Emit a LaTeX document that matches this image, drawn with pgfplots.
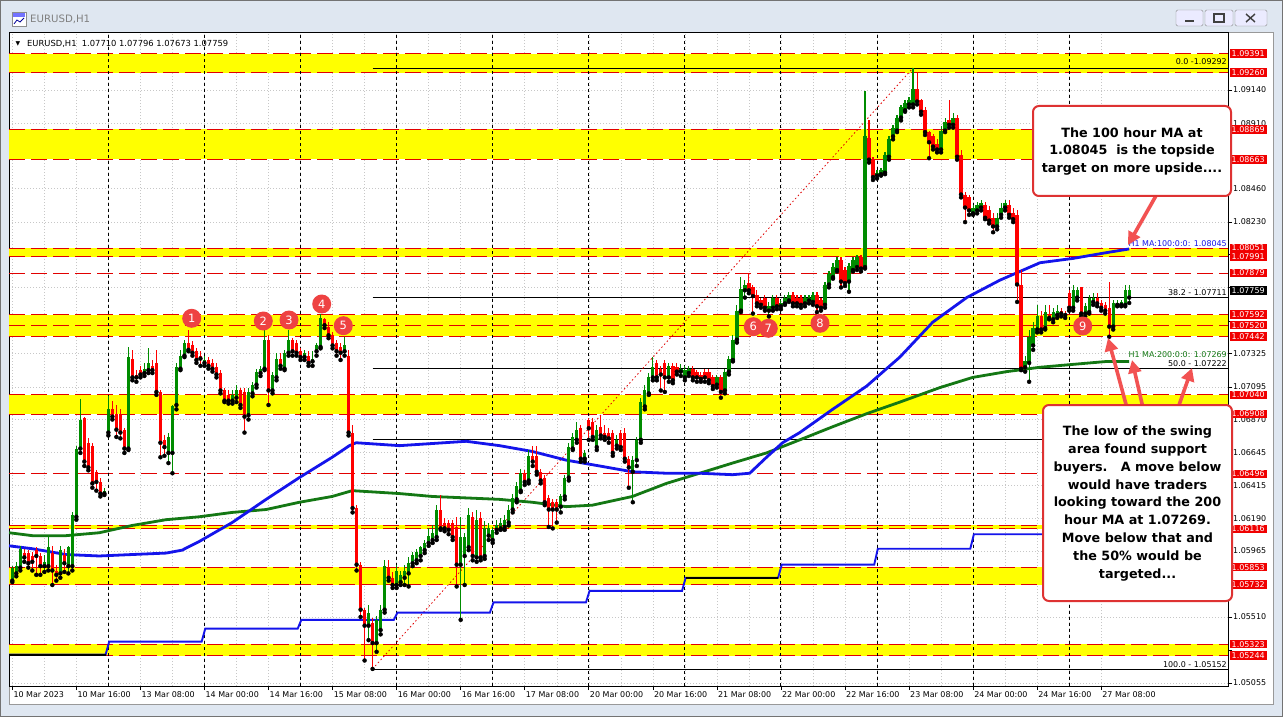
\documentclass[border=0pt]{standalone}
\usepackage{fontspec}
\setmainfont{DejaVu Sans}
\usepackage{pgfplots}
\pgfplotsset{compat=1.18}
\usepackage{pgfplotstable}
\usetikzlibrary{arrows.meta}

\definecolor{upg}{RGB}{0,140,0}
\definecolor{dnr}{RGB}{255,0,0}
\definecolor{mablue}{RGB}{20,20,235}
\definecolor{magreen}{RGB}{20,120,20}
\definecolor{bandy}{RGB}{255,255,0}
\definecolor{bandr}{RGB}{225,0,0}
\definecolor{winbg}{RGB}{223,231,241}
\definecolor{noteRed}{RGB}{222,50,50}
\definecolor{arrowRed}{RGB}{242,82,82}
\definecolor{dotRed}{RGB}{238,66,66}
\definecolor{tagRed}{RGB}{240,0,0}
\newcommand{\sm}{\fontsize{8}{9.5}\selectfont}

% hourly candles, index 0 = 10 Mar 00:00 (bull candles)
\pgfplotstableread{
i o h l c
0 1.0576 1.0586 1.0575 1.0585
1 1.0581 1.0589 1.0579 1.0586
2 1.0585 1.0600 1.0583 1.0598
8 1.0586 1.0594 1.0582 1.0589
9 1.0586 1.0607 1.0583 1.0599
12 1.0581 1.0600 1.0578 1.0597
14 1.0586 1.0600 1.0581 1.0599
15 1.0586 1.0623 1.0583 1.0621
16 1.0620 1.0669 1.0618 1.0667
17 1.0667 1.0701 1.0664 1.0687
23 1.0636 1.0640 1.0635 1.0638
24 1.0678 1.0703 1.0676 1.0694
29 1.0667 1.0737 1.0666 1.0730
33 1.0719 1.0726 1.0717 1.0722
34 1.0721 1.0736 1.0719 1.0726
39 1.0664 1.0678 1.0657 1.0675
40 1.0664 1.0697 1.0650 1.0696
41 1.0697 1.0726 1.0694 1.0723
42 1.0722 1.0735 1.0721 1.0731
43 1.0731 1.0742 1.0730 1.0740
48 1.0726 1.0731 1.0724 1.0728
55 1.0700 1.0707 1.0698 1.0704
56 1.0702 1.0711 1.0699 1.0707
59 1.0690 1.0709 1.0687 1.0706
60 1.0705 1.0713 1.0703 1.0711
61 1.0711 1.0722 1.0709 1.0720
62 1.0719 1.0724 1.0717 1.0722
63 1.0722 1.0749 1.0721 1.0742
65 1.0707 1.0720 1.0705 1.0718
66 1.0716 1.0733 1.0714 1.0729
68 1.0722 1.0735 1.0721 1.0733
69 1.0733 1.0749 1.0731 1.0742
73 1.0730 1.0735 1.0728 1.0733
75 1.0727 1.0734 1.0724 1.0729
76 1.0734 1.0740 1.0731 1.0738
77 1.0737 1.0760 1.0736 1.0757
83 1.0734 1.0744 1.0731 1.0738
89 1.0545 1.0559 1.0535 1.0554
91 1.0533 1.0552 1.0527 1.0549
92 1.0542 1.0559 1.0539 1.0556
93 1.0556 1.0590 1.0554 1.0586
96 1.0573 1.0587 1.0571 1.0583
97 1.0575 1.0583 1.0573 1.0580
98 1.0578 1.0587 1.0573 1.0583
99 1.0581 1.0592 1.0572 1.0588
100 1.0588 1.0596 1.0586 1.0594
101 1.0590 1.0598 1.0588 1.0596
102 1.0593 1.0600 1.0590 1.0599
103 1.0597 1.0604 1.0595 1.0602
104 1.0602 1.0612 1.0600 1.0607
105 1.0604 1.0614 1.0602 1.0609
106 1.0606 1.0628 1.0604 1.0625
112 1.0587 1.0620 1.0549 1.0606
113 1.0593 1.0609 1.0573 1.0606
114 1.0599 1.0626 1.0597 1.0621
116 1.0592 1.0625 1.0589 1.0618
118 1.0593 1.0617 1.0591 1.0612
119 1.0607 1.0616 1.0604 1.0612
120 1.0604 1.0613 1.0602 1.0611
121 1.0611 1.0618 1.0609 1.0614
122 1.0612 1.0619 1.0611 1.0616
123 1.0613 1.0621 1.0611 1.0618
124 1.0616 1.0628 1.0614 1.0625
125 1.0625 1.0636 1.0623 1.0633
126 1.0632 1.0644 1.0630 1.0641
127 1.0638 1.0653 1.0637 1.0650
129 1.0645 1.0666 1.0643 1.0662
137 1.0627 1.0636 1.0623 1.0634
138 1.0634 1.0649 1.0632 1.0647
139 1.0647 1.0671 1.0645 1.0668
140 1.0667 1.0678 1.0666 1.0675
141 1.0673 1.0685 1.0671 1.0680
143 1.0660 1.0666 1.0658 1.0664
146 1.0668 1.0683 1.0666 1.0680
151 1.0669 1.0676 1.0667 1.0673
155 1.0651 1.0662 1.0630 1.0659
156 1.0659 1.0675 1.0655 1.0673
157 1.0673 1.0702 1.0671 1.0699
158 1.0696 1.0711 1.0694 1.0707
159 1.0705 1.0719 1.0704 1.0716
160 1.0716 1.0730 1.0714 1.0723
164 1.0716 1.0726 1.0713 1.0724
167 1.0720 1.0725 1.0717 1.0722
168 1.0716 1.0724 1.0714 1.0721
169 1.0719 1.0724 1.0717 1.0722
176 1.0711 1.0718 1.0709 1.0716
178 1.0707 1.0722 1.0705 1.0720
179 1.0720 1.0731 1.0718 1.0729
180 1.0728 1.0745 1.0727 1.0742
181 1.0742 1.0766 1.0740 1.0762
182 1.0762 1.0785 1.0761 1.0777
183 1.0776 1.0783 1.0771 1.0780
189 1.0762 1.0768 1.0758 1.0765
190 1.0764 1.0773 1.0762 1.0771
192 1.0765 1.0769 1.0763 1.0767
193 1.0767 1.0773 1.0766 1.0771
194 1.0769 1.0775 1.0768 1.0773
198 1.0767 1.0773 1.0765 1.0771
199 1.0769 1.0773 1.0767 1.0771
200 1.0768 1.0775 1.0766 1.0773
203 1.0766 1.0782 1.0764 1.0780
204 1.0780 1.0789 1.0778 1.0787
205 1.0785 1.0795 1.0784 1.0792
206 1.0790 1.0799 1.0789 1.0797
209 1.0782 1.0795 1.0775 1.0793
210 1.0790 1.0799 1.0789 1.0797
211 1.0792 1.0800 1.0790 1.0799
213 1.0792 1.0913 1.0791 1.0882
216 1.0855 1.0859 1.0853 1.0857
217 1.0856 1.0860 1.0855 1.0859
218 1.0857 1.0871 1.0856 1.0869
219 1.0868 1.0882 1.0866 1.0880
220 1.0882 1.0890 1.0880 1.0888
221 1.0886 1.0897 1.0885 1.0895
222 1.0895 1.0904 1.0893 1.0902
223 1.0900 1.0907 1.0899 1.0905
224 1.0904 1.0909 1.0902 1.0907
225 1.0904 1.09292 1.0902 1.0915
232 1.0873 1.0889 1.0871 1.0886
233 1.0886 1.0895 1.0885 1.0892
235 1.0890 1.0898 1.0888 1.0895
240 1.0829 1.0835 1.0828 1.0833
241 1.0831 1.0837 1.0829 1.0835
242 1.0833 1.0838 1.0831 1.0836
246 1.0820 1.0829 1.0818 1.0826
247 1.0828 1.0836 1.0826 1.0833
248 1.0833 1.0838 1.0831 1.0836
253 1.0723 1.0731 1.0720 1.0727
254 1.0726 1.0749 1.0713 1.0744
255 1.0738 1.0754 1.0735 1.0750
256 1.0749 1.0766 1.0747 1.0758
258 1.0750 1.0766 1.0749 1.0761
260 1.0756 1.0764 1.0754 1.0761
261 1.0759 1.0766 1.0757 1.0762
265 1.0764 1.0780 1.0762 1.0776
266 1.0771 1.0778 1.0769 1.0776
268 1.0760 1.0767 1.0758 1.0765
269 1.0761 1.0773 1.0760 1.0771
270 1.0768 1.0774 1.0766 1.0771
275 1.0751 1.0769 1.0749 1.0767
276 1.0766 1.0769 1.0765 1.0767
277 1.0766 1.0769 1.0765 1.0768
278 1.0766 1.0780 1.0765 1.0776
279 1.07710 1.07796 1.07673 1.07759
}\upc

% bear candles
\pgfplotstableread{
i o h l c
3 1.0595 1.0598 1.0589 1.0592
4 1.0595 1.0597 1.0585 1.0588
5 1.0593 1.0596 1.0583 1.0589
6 1.0597 1.0599 1.0580 1.0593
7 1.0593 1.0595 1.0580 1.0586
10 1.0595 1.0600 1.0573 1.0583
11 1.0583 1.0587 1.0576 1.0580
13 1.0594 1.0598 1.0582 1.0588
18 1.0688 1.0689 1.0655 1.0658
19 1.0671 1.0674 1.0652 1.0654
20 1.0669 1.0671 1.0640 1.0643
21 1.0651 1.0652 1.0638 1.0644
22 1.0644 1.0647 1.0634 1.0636
25 1.0694 1.0700 1.0687 1.0689
26 1.0691 1.0697 1.0675 1.0680
27 1.0690 1.0694 1.0674 1.0678
28 1.0680 1.0681 1.0664 1.0667
30 1.0729 1.0735 1.0714 1.0716
31 1.0718 1.0721 1.0713 1.0716
32 1.0721 1.0724 1.0716 1.0718
35 1.0724 1.0728 1.0719 1.0721
36 1.0726 1.0735 1.0704 1.0706
37 1.0706 1.0707 1.0661 1.0671
38 1.0673 1.0676 1.0662 1.0668
44 1.0740 1.0749 1.0734 1.0735
45 1.0738 1.0741 1.0731 1.0733
46 1.0734 1.0736 1.0726 1.0728
47 1.0731 1.0734 1.0724 1.0729
49 1.0728 1.0730 1.0722 1.0724
50 1.0726 1.0729 1.0720 1.0722
51 1.0723 1.0726 1.0716 1.0718
52 1.0719 1.0721 1.0705 1.0707
53 1.0707 1.0709 1.0699 1.0700
54 1.0704 1.0707 1.0698 1.0700
57 1.0707 1.0709 1.0695 1.0697
58 1.0706 1.0709 1.0678 1.0689
64 1.0742 1.0745 1.0697 1.0707
67 1.0729 1.0733 1.0722 1.0724
70 1.0742 1.0743 1.0731 1.0734
71 1.0740 1.0742 1.0731 1.0733
72 1.0734 1.0736 1.0728 1.0730
74 1.0731 1.0734 1.0724 1.0726
78 1.0756 1.0757 1.0750 1.0752
79 1.0751 1.0754 1.0743 1.0745
80 1.0745 1.0747 1.0736 1.0738
81 1.0740 1.0742 1.0731 1.0734
82 1.0737 1.0740 1.0728 1.0733
84 1.0731 1.0735 1.0676 1.0678
85 1.0678 1.0683 1.0623 1.0626
86 1.0626 1.0628 1.0583 1.0587
87 1.0587 1.0589 1.0551 1.0556
88 1.0556 1.0557 1.0521 1.0545
90 1.0547 1.0550 1.05152 1.0533
94 1.0585 1.0590 1.0576 1.0578
95 1.0578 1.0582 1.0571 1.0573
107 1.0625 1.0635 1.0611 1.0612
108 1.0616 1.0619 1.0610 1.0612
109 1.0616 1.0618 1.0608 1.0611
110 1.0616 1.0618 1.0604 1.0606
111 1.0613 1.0620 1.0572 1.0587
115 1.0620 1.0623 1.0590 1.0593
117 1.0619 1.0623 1.0590 1.0592
128 1.0650 1.0652 1.0642 1.0644
130 1.0662 1.0669 1.0655 1.0658
131 1.0662 1.0669 1.0649 1.0651
132 1.0651 1.0653 1.0643 1.0645
133 1.0647 1.0649 1.0628 1.0630
134 1.0633 1.0635 1.0613 1.0625
135 1.0630 1.0632 1.0612 1.0625
136 1.0630 1.0632 1.0616 1.0625
142 1.0681 1.0683 1.0658 1.0660
144 1.0687 1.0688 1.0673 1.0681
145 1.0685 1.0688 1.0673 1.0675
147 1.0682 1.0690 1.0674 1.0676
148 1.0678 1.0683 1.0673 1.0675
149 1.0678 1.0681 1.0671 1.0674
150 1.0678 1.0680 1.0662 1.0664
152 1.0678 1.0680 1.0666 1.0668
153 1.0678 1.0681 1.0658 1.0660
154 1.0660 1.0662 1.0640 1.0654
161 1.0726 1.0728 1.0714 1.0716
162 1.0722 1.0724 1.0707 1.0718
163 1.0726 1.0728 1.0706 1.0716
165 1.0724 1.0726 1.0712 1.0714
166 1.0723 1.0726 1.0718 1.0720
170 1.0722 1.0724 1.0714 1.0716
171 1.0720 1.0721 1.0713 1.0716
172 1.0718 1.0720 1.0713 1.0715
173 1.0720 1.0722 1.0713 1.0716
174 1.0720 1.0722 1.0712 1.0714
175 1.0716 1.0718 1.0708 1.0710
177 1.0716 1.0718 1.0702 1.0706
184 1.0781 1.0788 1.0774 1.0776
185 1.0778 1.0780 1.0760 1.0772
186 1.0773 1.0776 1.0765 1.0767
187 1.0769 1.0771 1.0764 1.0766
188 1.0771 1.0773 1.0762 1.0764
191 1.0771 1.0773 1.0763 1.0765
195 1.0773 1.0775 1.0765 1.0767
196 1.0771 1.0773 1.0765 1.0767
197 1.0771 1.0773 1.0764 1.0766
201 1.0773 1.0775 1.0761 1.0765
202 1.0769 1.0771 1.0762 1.0764
207 1.0797 1.0799 1.0778 1.0782
208 1.0790 1.0792 1.0779 1.0781
212 1.0799 1.0800 1.0789 1.0791
214 1.0881 1.0893 1.0864 1.0866
215 1.0866 1.0868 1.0852 1.0854
226 1.0915 1.0926 1.0904 1.0906
227 1.0907 1.0908 1.0897 1.0899
228 1.0900 1.0902 1.0883 1.0885
229 1.0885 1.0886 1.0867 1.0878
230 1.0882 1.0884 1.0873 1.0875
231 1.0877 1.0880 1.0871 1.0873
234 1.0893 1.0907 1.0888 1.0890
236 1.0895 1.0897 1.0866 1.0868
237 1.0869 1.0873 1.0840 1.0842
238 1.0842 1.0844 1.0823 1.0833
239 1.0840 1.0842 1.0828 1.0831
243 1.0835 1.0837 1.0825 1.0826
244 1.0831 1.0834 1.0822 1.0824
245 1.0826 1.0829 1.0816 1.0820
249 1.0835 1.0838 1.0826 1.0828
250 1.0829 1.0833 1.0823 1.0825
251 1.0828 1.0831 1.0768 1.0780
252 1.0780 1.0790 1.0721 1.0722
257 1.0758 1.0762 1.0747 1.0749
259 1.0760 1.0766 1.0756 1.0757
262 1.0762 1.0764 1.0758 1.0760
263 1.0760 1.0762 1.0757 1.0759
264 1.0774 1.0776 1.0762 1.0764
267 1.0778 1.0778 1.0758 1.0760
271 1.0771 1.0774 1.0765 1.0767
272 1.0767 1.0769 1.0762 1.0764
273 1.0766 1.0768 1.0760 1.0762
274 1.0764 1.0782 1.0744 1.0751
}\dnc

\tikzset{
  bandln/.style={bandr, line width=1bp, dash pattern=on 16bp off 6bp},
  sepln/.style={black, line width=0.9bp, dash pattern=on 3bp off 3bp},
  tag/.style={fill=#1, text=white, font=\sm, anchor=west, inner xsep=2bp, inner ysep=1.3bp},
  numdot/.style={circle, fill=dotRed, text=white, minimum size=19bp, inner sep=0pt, font=\fontsize{11.5}{11.5}\selectfont},
  note/.style={align=center, font=\bfseries\fontsize{12.8}{18}\selectfont},
  arr/.style={arrowRed, line width=3.6bp, -{Triangle[length=13bp,width=13bp]}}
}
\newcommand{\band}[2]{\fill[bandy] (axis cs:-0.825,#1) rectangle (axis cs:303.675,#2);}
\newcommand{\lvl}[1]{\draw[bandln] (axis cs:-0.825,#1) -- (axis cs:303.675,#1);}

\begin{document}
\begin{tikzpicture}
% window chrome
\begin{scope}[x=1bp,y=-1bp]
  \fill[winbg] (0,0) rectangle (1283,717);
  \draw[black!55, line width=1bp] (0.5,0.5) rectangle (1282.5,716.5);
  \fill[white] (9,32) rectangle (1273,704);
  \draw[black!40, line width=0.8bp] (9,32) rectangle (1273,704);
  \draw[black!45, fill=white] (12,12) rectangle (26,26);
  \fill[blue!55] (13,13) rectangle (25,17);
  \draw[blue!60!black, line width=0.8bp] (14,24) -- (17,20) -- (20,22) -- (24,18);
  \node[anchor=west, text=black!50, font=\fontsize{10.2}{12}\selectfont, inner sep=0] at (30,19.5) {EURUSD,H1};
  \foreach \xa/\xb in {1176/1203,1205/1233,1235/1267}{
    \draw[black!45, fill=white!92!blue, rounded corners=1.5bp] (\xa,10) rectangle (\xb,26);
  }
  \draw[black!75, line width=1.6bp] (1185,21) -- (1194,21);
  \draw[black!75, line width=1.2bp] (1214,14) rectangle (1224,22);
  \draw[black!75, line width=1.4bp] (1246,14) -- (1255,22) (1246,22) -- (1255,14);
\end{scope}

\begin{axis}[
  at={(9bp,-686bp)}, anchor=south west,
  scale only axis, width=1219bp, height=654bp,
  xmin=-0.825, xmax=303.675, ymin=1.050343, ymax=1.095395,
  clip=false,
  axis line style={black, line width=0.9bp},
  xtick={0,16,32,48,64,80,96,112,128,144,160,176,192,208,224,240,256,272},
  xticklabels={10 Mar 2023,10 Mar 16:00,13 Mar 08:00,14 Mar 00:00,14 Mar 16:00,15 Mar 08:00,16 Mar 00:00,16 Mar 16:00,17 Mar 08:00,20 Mar 00:00,20 Mar 16:00,21 Mar 08:00,22 Mar 00:00,22 Mar 16:00,23 Mar 08:00,24 Mar 00:00,24 Mar 16:00,27 Mar 08:00},
  minor x tick num=1,
  ytick={1.09140,1.08910,1.08685,1.08460,1.08230,1.08005,1.07780,1.07550,1.07325,1.07095,1.06870,1.06645,1.06415,1.06190,1.05965,1.05735,1.05510,1.05280,1.05055},
  yticklabels={1.09140,1.08910,,1.08460,1.08230,,,,1.07325,1.07095,1.06870,1.06645,1.06415,1.06190,1.05965,,1.05510,,1.05055},
  scaled y ticks=false,
  xtick pos=bottom, ytick pos=right, yticklabel pos=right,
  tick align=outside, major tick length=4bp, minor tick length=0bp,
  xmajorgrids, xminorgrids, ymajorgrids,
  major grid style={black!22, line width=0.5bp, dash pattern=on 1bp off 2bp},
  minor grid style={black!22, line width=0.5bp, dash pattern=on 1bp off 2bp},
  tick style={black, line width=0.6bp},
  xticklabel style={font=\sm, anchor=north west, inner sep=1bp},
  yticklabel style={font=\sm, anchor=west, inner sep=1bp},
]
% support / resistance zones
\band{1.09260}{1.09391}
\band{1.08663}{1.08869}
\band{1.07991}{1.08051}
\band{1.07442}{1.07592}
\band{1.06908}{1.07040}
\band{1.06116}{1.06140}
\band{1.05732}{1.05853}
\band{1.05244}{1.05323}
\lvl{1.09391}\lvl{1.09260}\lvl{1.08869}\lvl{1.08663}
\lvl{1.08051}\lvl{1.07991}\lvl{1.07879}
\lvl{1.07592}\lvl{1.07520}\lvl{1.07442}
\lvl{1.07040}\lvl{1.06908}\lvl{1.06496}
\lvl{1.06140}\lvl{1.06116}\lvl{1.05853}\lvl{1.05732}
\lvl{1.05323}\lvl{1.05244}
% day separators
\pgfplotsinvokeforeach{24,48,72,96,120,144,168,192,216,240,264}{
  \draw[sepln] (axis cs:#1,1.050343) -- (axis cs:#1,1.095395);
}
% fibonacci retracement
\addplot[black, line width=0.8bp] coordinates {(90,1.09292) (303.675,1.09292)};
\addplot[black, line width=0.8bp] coordinates {(90,1.07711) (303.675,1.07711)};
\addplot[black, line width=0.8bp] coordinates {(90,1.07222) (303.675,1.07222)};
\addplot[black, line width=0.8bp] coordinates {(90,1.06733) (303.675,1.06733)};
\addplot[black, line width=0.8bp] coordinates {(90,1.05152) (303.675,1.05152)};
\addplot[bandr, line width=0.8bp, dash pattern=on 1.5bp off 2.5bp] coordinates {(90,1.05152) (225,1.09292)};
% daily step line
\addplot[mablue, line width=1.9bp] coordinates {
(-0.8,1.0525) (23.3,1.0525) (24.2,1.0534) (47.3,1.0534) (48.2,1.0543) (71.3,1.0543)
(72.2,1.0549) (95.3,1.0549) (96.2,1.0554) (119.3,1.0554) (120.2,1.0561) (143.3,1.0561)
(144.2,1.0569) (167.3,1.0569) (168.2,1.0578) (191.3,1.0578) (192.2,1.0587) (215.3,1.0587)
(216.2,1.0598) (239.3,1.0598) (240.2,1.0608) (263.3,1.0608) (264.2,1.0618) (279,1.0618)};
\addplot[black, line width=1.9bp] coordinates {(-0.8,1.0525) (23.3,1.0525)};
\addplot[black, line width=1.9bp] coordinates {(168.2,1.0578) (191.3,1.0578)};
% 200 hour MA
\addplot[magreen, line width=2.8bp] coordinates {
(-0.8,1.0609) (5,1.0607) (13.4,1.0607) (21.7,1.0609) (29.9,1.0614) (38.4,1.0618)
(46.7,1.0620) (54.9,1.0623) (63.4,1.0625) (71.7,1.0630) (79.9,1.0634) (84.9,1.0638)
(96.7,1.0636) (104.9,1.0634) (113.4,1.0633) (121.7,1.0632) (129.9,1.0630) (138.4,1.0627)
(144.9,1.0628) (154.9,1.0634) (163.4,1.0643) (171.7,1.0650) (179.9,1.0657) (188.4,1.0664)
(196.7,1.0673) (204.9,1.0682) (213.4,1.0691) (221.7,1.0699) (231.7,1.0709) (239.9,1.0716)
(248.4,1.0720) (256.7,1.0723) (265,1.0725) (273.4,1.0727) (279,1.07269)};
% 100 hour MA
\addplot[mablue, line width=2.8bp] coordinates {
(-0.8,1.0600) (5,1.0598) (13.4,1.0594) (21.7,1.0593) (29.9,1.0594) (38.4,1.0595)
(42.4,1.0597) (46.7,1.0603) (54.9,1.0616) (63.4,1.0632) (71.7,1.0647) (79.9,1.0661)
(84.2,1.0669) (85.9,1.0671) (96.7,1.0669) (113.4,1.0672) (121.7,1.0669) (129.9,1.0665)
(138.4,1.0659) (146.7,1.0655) (154.9,1.0651) (163.4,1.0650) (171.7,1.0650) (179.9,1.0649)
(184.2,1.0650) (188.4,1.0661) (192.4,1.0671) (196.7,1.0678) (204.9,1.0694) (213.4,1.0710)
(221.7,1.0730) (229.9,1.0754) (238.4,1.0771) (246.7,1.0783) (256.7,1.0795) (265,1.0798)
(273.4,1.0802) (279,1.08045)};
% candles: wicks then bodies
\addplot[only marks, mark=none, error bars/.cd, y dir=plus, y explicit, error mark=none,
  error bar style={upg, line width=1.1bp}]
  table[x=i, y=l, y error expr=\thisrow{h}-\thisrow{l}] {\upc};
\addplot[only marks, mark=none, error bars/.cd, y dir=plus, y explicit, error mark=none,
  error bar style={dnr, line width=1.1bp}]
  table[x=i, y=l, y error expr=\thisrow{h}-\thisrow{l}] {\dnc};
\addplot[only marks, mark=none, error bars/.cd, y dir=plus, y explicit, error mark=none,
  error bar style={upg, line width=3.3bp}]
  table[x=i, y=o, y error expr=\thisrow{c}-\thisrow{o}] {\upc};
\addplot[only marks, mark=none, error bars/.cd, y dir=plus, y explicit, error mark=none,
  error bar style={dnr, line width=3.3bp}]
  table[x=i, y=c, y error expr=\thisrow{o}-\thisrow{c}] {\dnc};
% object labels
\node[anchor=south east, font=\sm, inner sep=1bp, yshift=2bp] at (axis cs:303.675,1.09292) {0.0 -1.09292};
\node[anchor=south east, font=\sm, inner sep=1bp, yshift=1bp] at (axis cs:303.675,1.07711) {38.2 - 1.07711};
\node[anchor=south east, font=\sm, inner sep=1bp, text=magreen, yshift=3bp] at (axis cs:303.675,1.07269) {H1 MA:200:0:0: 1.07269};
\node[anchor=south east, font=\sm, inner sep=1bp, yshift=1bp] at (axis cs:303.675,1.07222) {50.0 - 1.07222};
\node[anchor=south east, font=\sm, inner sep=1bp, yshift=0.5bp] at (axis cs:303.675,1.05152) {100.0 - 1.05152};
\node[anchor=south east, font=\sm, inner sep=1bp, text=mablue, yshift=0.5bp] at (axis cs:303.675,1.08051) {H1 MA:100:0:0: 1.08045};
% price tag anchors
\coordinate (tA) at (axis cs:303.675,1.09391);
\coordinate (tB) at (axis cs:303.675,1.09260);
\coordinate (tC) at (axis cs:303.675,1.08869);
\coordinate (tD) at (axis cs:303.675,1.08663);
\coordinate (tE) at (axis cs:303.675,1.08051);
\coordinate (tF) at (axis cs:303.675,1.07991);
\coordinate (tG) at (axis cs:303.675,1.07879);
\coordinate (tH) at (axis cs:303.675,1.07759);
\coordinate (tI) at (axis cs:303.675,1.07592);
\coordinate (tJ) at (axis cs:303.675,1.07520);
\coordinate (tK) at (axis cs:303.675,1.07442);
\coordinate (tL) at (axis cs:303.675,1.07040);
\coordinate (tM) at (axis cs:303.675,1.06908);
\coordinate (tN) at (axis cs:303.675,1.06496);
\coordinate (tO) at (axis cs:303.675,1.06116);
\coordinate (tP) at (axis cs:303.675,1.05853);
\coordinate (tQ) at (axis cs:303.675,1.05732);
\coordinate (tR) at (axis cs:303.675,1.05323);
\coordinate (tS) at (axis cs:303.675,1.05244);
\end{axis}

\begin{scope}[x=1bp,y=-1bp]
  % header line
  \node[font=\fontsize{6}{6}\selectfont, inner sep=0] at (18,43.5) {▼};
  \node[anchor=west, font=\fontsize{8.4}{10}\selectfont, inner sep=0] at (27,43.5) {EURUSD,H1\ \ 1.07710 1.07796 1.07673 1.07759};
  % price tags
  \foreach \t/\v in {tA/1.09391,tB/1.09260,tC/1.08869,tD/1.08663,tE/1.08051,tF/1.07991,tG/1.07879,tI/1.07592,tJ/1.07520,tK/1.07442,tL/1.07040,tM/1.06908,tN/1.06496,tO/1.06116,tP/1.05853,tQ/1.05732,tR/1.05323,tS/1.05244}{
    \node[tag=tagRed] at ([xshift=1.5bp]\t) {\v};
  }
  \node[tag=black] at ([xshift=1.5bp]tH) {1.07759};
  % numbered swing points
  \node[numdot] at (191.7,318.3) {1};
  \node[numdot] at (263.3,321) {2};
  \node[numdot] at (289,320) {3};
  \node[numdot] at (321.7,304) {4};
  \node[numdot] at (343.3,325.7) {5};
  \node[numdot] at (753.3,326.7) {6};
  \node[numdot] at (768.3,328.3) {7};
  \node[numdot] at (820,323.3) {8};
  \node[numdot] at (1082.7,326) {9};
  % arrows
  \draw[arr] (1157,194) -- (1128,245);
  \draw[arr] (1127,408) -- (1108,338);
  \draw[arr] (1143,408) -- (1132,360);
  \draw[arr] (1178,408) -- (1192,368);
  % comment boxes
  \draw[noteRed, line width=2bp, rounded corners=6bp, fill=white] (1033,106) rectangle (1231,196);
  \node[note] at (1132,151.5) {The 100 hour MA at\\1.08045\ \ is the topside\\target on more upside....};
  \draw[noteRed, line width=2bp, rounded corners=6bp, fill=white] (1043,405) rectangle (1232,601);
  \node[note] at (1137.5,503.5) {The low of the swing\\area found support\\buyers.\ \ \ A move below\\would have traders\\looking toward the 200\\hour MA at 1.07269.\\Move below that and\\the 50\% would be\\targeted...};
\end{scope}
\end{tikzpicture}
\end{document}
